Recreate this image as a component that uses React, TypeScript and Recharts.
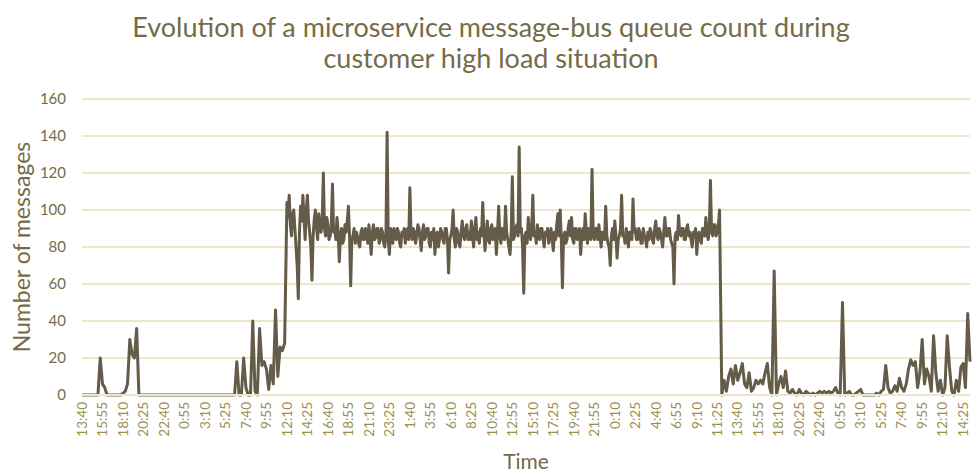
import { LineChart, Line, XAxis, YAxis, CartesianGrid } from "recharts";

// x axis labels, one every 2h15 (9 steps of 15 min)
const timeLabels = [
	"13:40", "15:55", "18:10", "20:25", "22:40", "0:55", "3:10", "5:25", "7:40", "9:55",
	"12:10", "14:25", "16:40", "18:55", "21:10", "23:25", "1:40", "3:55", "6:10", "8:25",
	"10:40", "12:55", "15:10", "17:25", "19:40", "21:55", "0:10", "2:25", "4:40", "6:55",
	"9:10", "11:25", "13:40", "15:55", "18:10", "20:25", "22:40", "0:55", "3:10", "5:25",
	"7:40", "9:55", "12:10", "14:25",
];
const STEPS_PER_LABEL = 9;

const yTicks = [0, 20, 40, 60, 80, 100, 120, 140, 160];

// queue count before the load, one sample every 15 min
const warmup = [
	0, 0, 0, 0, 0, 0, 0, 0, 20, 6, 4, 0, 0, 0, 0, 0, 0, 0, 1, 2,
	6, 30, 22, 20, 36, 0, 0, 0, 0, 0, 0, 0, 0, 0, 0, 0, 0, 0, 0, 0,
	0, 0, 0, 0, 0, 0, 0, 0, 0, 0, 0, 0, 0, 0, 0, 0, 0, 0, 0, 0,
	0, 0, 0, 0, 0, 0, 0, 0, 18, 0, 0, 20, 4, 0, 0, 40, 2, 0, 36, 16,
	18, 14, 3, 16, 6, 46, 10, 26, 24, 28,
];

// queue count under high load, one sample every 7.5 min
const highLoad = [
	104, 96, 108, 92, 86, 98, 100, 90, 80, 70, 52, 88, 102, 94, 108, 96, 84, 100, 108, 94,
	88, 80, 62, 86, 95, 100, 90, 84, 98, 92, 88, 94, 120, 90, 86, 96, 92, 84, 86, 92,
	114, 88, 90, 84, 96, 88, 72, 86, 90, 82, 84, 92, 88, 94, 102, 86, 59, 84, 86, 90,
	82, 88, 86, 82, 80, 88, 90, 84, 84, 90, 88, 82, 92, 86, 76, 88, 92, 84, 85, 90,
	90, 82, 84, 90, 88, 82, 80, 88, 142, 84, 76, 90, 88, 82, 90, 86, 84, 90, 88, 82,
	80, 88, 86, 90, 82, 88, 90, 84, 112, 88, 84, 90, 88, 82, 86, 92, 90, 84, 78, 88,
	92, 84, 86, 90, 90, 82, 80, 88, 84, 90, 76, 86, 88, 80, 84, 90, 88, 84, 82, 90,
	90, 84, 66, 84, 86, 90, 100, 84, 80, 90, 88, 82, 80, 88, 94, 86, 84, 90, 92, 84,
	88, 84, 94, 86, 80, 90, 96, 84, 88, 82, 90, 86, 104, 88, 78, 86, 94, 84, 82, 90,
	92, 84, 86, 90, 76, 88, 102, 86, 82, 90, 88, 84, 102, 88, 84, 80, 76, 88, 118, 84,
	86, 90, 92, 86, 134, 88, 90, 80, 55, 86, 88, 82, 96, 88, 84, 90, 108, 86, 88, 82,
	92, 86, 84, 90, 90, 84, 80, 88, 86, 90, 82, 86, 90, 84, 78, 88, 84, 92, 98, 86,
	100, 84, 58, 86, 88, 82, 84, 90, 94, 86, 96, 84, 82, 90, 90, 84, 86, 90, 76, 86,
	90, 84, 98, 88, 82, 90, 88, 84, 122, 88, 84, 90, 90, 84, 92, 86, 80, 88, 88, 84,
	102, 86, 82, 80, 70, 86, 90, 84, 94, 86, 74, 84, 86, 90, 108, 86, 86, 82, 90, 86,
	80, 88, 88, 84, 106, 88, 90, 84, 84, 90, 88, 82, 82, 90, 86, 84, 80, 88, 84, 90,
	88, 84, 82, 90, 94, 86, 84, 90, 88, 84, 80, 88, 96, 86, 86, 90, 90, 84, 82, 80,
	60, 86, 88, 84, 97, 88, 86, 90, 90, 84, 84, 90, 92, 86, 88, 84, 80, 88, 86, 90,
	76, 86, 88, 84, 82, 90, 90, 86, 96, 88, 84, 90, 116, 88, 86, 92, 92, 86, 88, 92,
	100,
];

// queue count after the load, one sample every 15 min
const cooldown = [
	0, 8, 2, 10, 14, 6, 16, 8, 12, 17, 6, 4, 12, 2, 4, 8, 6, 8, 6, 12,
	17, 4, 0, 67, 0, 6, 10, 4, 13, 2, 1, 3, 1, 0, 3, 1, 0, 2, 1, 0,
	1, 0, 1, 2, 1, 2, 1, 2, 1, 2, 4, 1, 0, 50, 0, 1, 2, 0, 0, 1,
	2, 3, 0, 0, 0, 0, 0, 0, 1, 0, 2, 3, 16, 4, 1, 2, 5, 2, 9, 4,
	2, 6, 14, 19, 16, 18, 4, 12, 30, 6, 14, 10, 2, 32, 12, 2, 8, 0, 4, 32,
	15, 2, 0, 8, 2, 15, 17, 4, 44, 18,
];

// idx counts 15 min steps from the first sample
const loadEnd = warmup.length + (highLoad.length - 1) / 2;
const data = [
	...warmup.map((messages, i) => ({ idx: i, messages })),
	...highLoad.map((messages, j) => ({ idx: warmup.length + j / 2, messages })),
	...cooldown.map((messages, k) => ({ idx: loadEnd + 1 + k, messages })),
];

const TEXT = "#756c47";
const TICK = "#9a8f50";
const GRID = "#ebe7c9";
const LINE = "#645c48";

const TimeTick = ({ x, y, payload }: any) => (
	<g transform={`translate(${x},${y + 7})`}>
		<text
			transform="rotate(-90)"
			textAnchor="end"
			dy="0.35em"
			fill={TICK}
			fontSize={13.5}
		>
			{timeLabels[payload.value / STEPS_PER_LABEL]}
		</text>
	</g>
);

const App = () => {
	const lastIdx = data[data.length - 1].idx;

	return (
		<div style={{ position: "relative", width: 972, height: 474, background: "#fff" }}>
			<style>{"body{margin:0}"}</style>
			<div
				style={{
					position: "absolute",
					top: 11,
					left: 5,
					width: 972,
					textAlign: "center",
					fontFamily: "Lato, sans-serif",
					fontSize: 27,
					lineHeight: "31px",
					color: TEXT,
				}}
			>
				Evolution of a microservice message-bus queue count during
				<br />
				customer high load situation
			</div>
			<LineChart
				width={972}
				height={474}
				data={data}
				margin={{ top: 99, right: 2, bottom: 0, left: 0 }}
				style={{ fontFamily: "Lato, sans-serif" }}
			>
				<CartesianGrid stroke={GRID} strokeWidth={2} vertical={false} />
				<XAxis
					type="number"
					dataKey="idx"
					domain={[0, lastIdx]}
					ticks={timeLabels.map((_, k) => k * STEPS_PER_LABEL)}
					interval={0}
					tick={<TimeTick />}
					tickSize={0}
					tickMargin={0}
					tickLine={false}
					axisLine={{ stroke: GRID, strokeWidth: 2 }}
					height={79}
					label={{ value: "Time", position: "insideBottom", offset: 5, fill: TEXT, fontSize: 21 }}
				/>
				<YAxis
					domain={[0, 160]}
					ticks={yTicks}
					width={82}
					tickSize={0}
					tickMargin={16}
					tick={{ fill: TEXT, fontSize: 15 }}
					tickLine={false}
					axisLine={false}
					label={{
						content: ({ viewBox }: any) => (
							<text
								x={30}
								y={viewBox.y + viewBox.height / 2}
								transform={`rotate(-90, 30, ${viewBox.y + viewBox.height / 2})`}
								textAnchor="middle"
								fill={TEXT}
								fontSize={23}
							>
								Number of messages
							</text>
						),
					}}
				/>
				<Line
					type="linear"
					dataKey="messages"
					stroke={LINE}
					strokeWidth={3}
					dot={false}
					strokeLinejoin="round"
					isAnimationActive={false}
				/>
			</LineChart>
		</div>
	);
};

export default App;
